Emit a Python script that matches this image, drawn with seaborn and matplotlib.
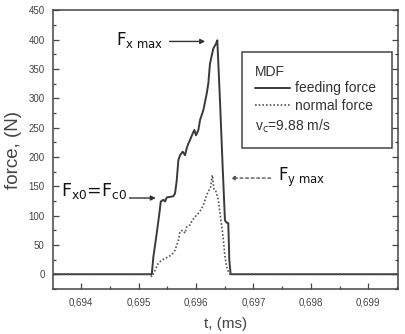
import matplotlib
matplotlib.use("Agg")
import matplotlib.pyplot as plt
import matplotlib.ticker as mticker
from matplotlib.patches import Rectangle
import seaborn as sns
import numpy as np

# ---- data ----
t_feed = [0.69350, 0.695229, 0.695258, 0.695316, 0.695362, 0.695386, 0.695432, 0.695461,
          0.695490, 0.695548, 0.695606, 0.695635, 0.695664, 0.695693, 0.695722, 0.695768,
          0.695809, 0.695838, 0.695867, 0.695896, 0.695942, 0.695971, 0.696000, 0.696041,
          0.696070, 0.696128, 0.696186, 0.696214, 0.696243, 0.696301, 0.696348, 0.696371,
          0.696417, 0.696464, 0.696504, 0.696533, 0.696562, 0.696580, 0.696603, 0.69952]
f_feed = [0, 0, 30, 70, 104, 124, 127, 124,
          131, 132, 133, 138, 160, 195, 203, 209,
          203, 215, 223, 229, 240, 246, 237, 246,
          263, 280, 308, 325, 359, 385, 393, 399,
          297, 183, 92, 88, 87, 24, 0, 0]

t_norm = [0.69350, 0.695200, 0.695229, 0.695287, 0.695345, 0.695403, 0.695461, 0.695519,
          0.695577, 0.695635, 0.695693, 0.695722, 0.695768, 0.695809, 0.695838, 0.695896,
          0.695925, 0.695983, 0.696041, 0.696099, 0.696139, 0.696186, 0.696214, 0.696255,
          0.696284, 0.696313, 0.696348, 0.696388, 0.696417, 0.696464, 0.696504, 0.696533,
          0.696562, 0.696591, 0.69952]
f_norm = [0, 0, -4, 7, 19, 24, 27, 30,
          33, 41, 58, 73, 75, 70, 81, 84,
          90, 98, 104, 112, 121, 135, 141, 149,
          169, 144, 141, 127, 104, 70, 30, 13,
          5, 0, 0]

x_ticks = [0.694, 0.695, 0.696, 0.697, 0.698, 0.699]
x_tick_labels = ["0,694", "0,695", "0,696", "0,697", "0,698", "0,699"]
y_ticks = [0, 50, 100, 150, 200, 250, 300, 350, 400, 450]

sns.set_style("ticks")
plt.rcParams['font.family'] = ['Liberation Sans', 'DejaVu Sans']
plt.rcParams['mathtext.fontset'] = 'dejavusans'

fig = plt.figure(figsize=(4.05, 3.34), dpi=100)
ax = fig.add_axes([0.131, 0.135, 0.852, 0.834])

line_col = "#3a3a3a"
sns.lineplot(x=t_feed, y=f_feed, ax=ax, color=line_col, linewidth=1.4, sort=False,
             estimator=None)
sns.lineplot(x=t_norm, y=f_norm, ax=ax, color="#555555", linewidth=1.2, sort=False,
             estimator=None, linestyle=(0, (1, 1.2)))

ax.set_xlim(0.69351, 0.69952)
ax.set_ylim(-25, 450)
ax.set_xticks(x_ticks)
ax.set_xticklabels(x_tick_labels)
ax.set_yticks(y_ticks)
ax.xaxis.set_minor_locator(mticker.MultipleLocator(0.0005))
ax.yaxis.set_minor_locator(mticker.MultipleLocator(25))
ax.tick_params(which='both', direction='in', right=True, top=False,
               labelsize=7, labelcolor="#444444", color="#444444", width=0.9)
ax.tick_params(which='major', length=4, pad=6)
ax.tick_params(which='minor', length=2.5)
for s in ax.spines.values():
    s.set_visible(True)
    s.set_color("#444444")
    s.set_linewidth(1.1)

ax.set_xlabel("t, (ms)", fontsize=11, color="#444444", labelpad=7)
ax.set_ylabel("force, (N)", fontsize=13.5, color="#444444", labelpad=5)

# annotations
ax.annotate("", xy=(0.696160, 397), xytext=(0.695540, 397),
            arrowprops=dict(arrowstyle="-|>", color="#333333", lw=1.0,
                            mutation_scale=7, shrinkA=0, shrinkB=0))
ax.text(0.695440, 399, r"F$_{\mathrm{x\ max}}$", fontsize=12, ha='right', va='center',
        family='DejaVu Sans', color="#111111")

ax.annotate("", xy=(0.695300, 130), xytext=(0.694840, 130),
            arrowprops=dict(arrowstyle="-|>", color="#333333", lw=1.0,
                            mutation_scale=7, shrinkA=0, shrinkB=0))
ax.text(0.694800, 142, r"F$_{\mathrm{x0}}$=F$_{\mathrm{c0}}$", fontsize=12.5, ha='right',
        va='center', family='DejaVu Sans', color="#111111")

ax.annotate("", xy=(0.696600, 164), xytext=(0.697300, 164),
            arrowprops=dict(arrowstyle="-|>", color="#555555", lw=1.0, linestyle=(0, (2, 2)),
                            mutation_scale=6, shrinkA=0, shrinkB=0))
ax.text(0.697420, 166, r"F$_{\mathrm{y\ max}}$", fontsize=12, ha='left', va='center',
        family='DejaVu Sans', color="#111111")

# legend box
ax.add_patch(Rectangle((0.547, 0.506), 0.435, 0.345, transform=ax.transAxes,
                       fill=False, edgecolor="#444444", linewidth=1.1))
ax.text(0.585, 0.779, "MDF", transform=ax.transAxes, fontsize=10, va='center',
        color="#333333")
ax.text(0.585, 0.582, r"v$_\mathrm{c}$=9.88 m/s", transform=ax.transAxes, fontsize=10,
        va='center', color="#333333")
handles = [plt.Line2D([], [], color=line_col, lw=1.4),
           plt.Line2D([], [], color="#555555", lw=1.2, linestyle=(0, (1, 1.2)))]
ax.legend(handles, ["feeding force", "normal force"], loc='upper left',
          bbox_to_anchor=(0.585, 0.745), frameon=False, fontsize=10,
          handlelength=2.5, handletextpad=0.4, labelspacing=0.25, borderpad=0,
          borderaxespad=0, labelcolor="#333333")

fig.savefig("out.png", dpi=100)
